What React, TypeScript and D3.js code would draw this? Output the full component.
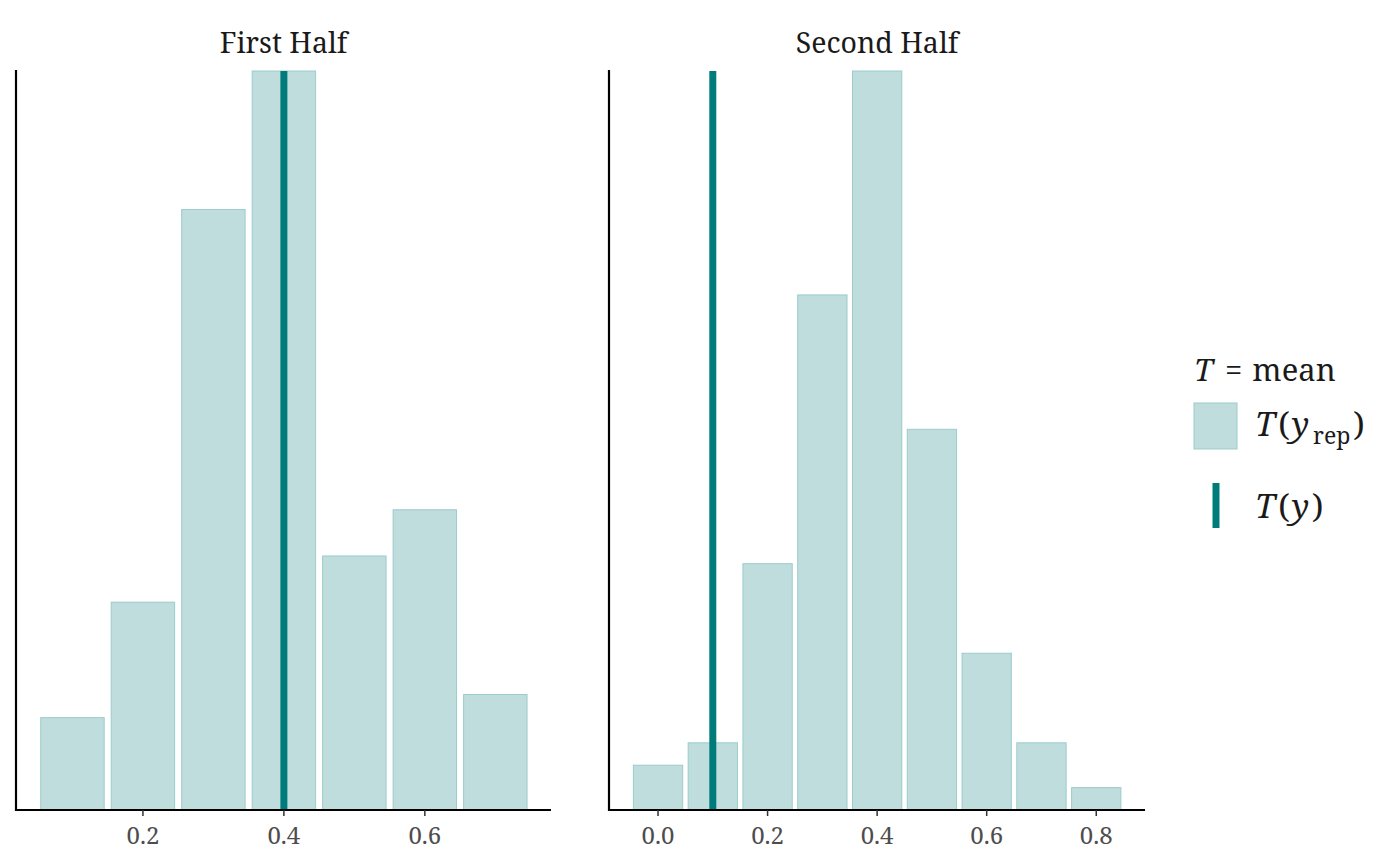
import * as d3 from "d3";

const FONT = "'Noto Serif', 'DejaVu Serif', serif";
const FILL = "#bfdddd";
const STROKE = "#9ccbcb";
const LINE = "#007b7b";

// bin centres and counts of T(y_rep), one list per facet
const firstBins = [0.1, 0.2, 0.3, 0.4, 0.5, 0.6, 0.7];
const firstCounts = [12, 27, 78, 96, 33, 39, 15];
const firstTy = 0.4;
const firstTicks = [0.2, 0.4, 0.6];

const secondBins = [0.0, 0.1, 0.2, 0.3, 0.4, 0.5, 0.6, 0.7, 0.8];
const secondCounts = [6, 9, 33, 69, 99, 51, 21, 9, 3];
const secondTy = 0.1;
const secondTicks = [0.0, 0.2, 0.4, 0.6, 0.8];

const BIN = 0.1;
const TOP = 71;
const BOTTOM = 810;

type PanelProps = {
    title: string;
    left: number;
    right: number;
    domain: [number, number];
    bins: number[];
    counts: number[];
    ty: number;
    ticks: number[];
};

const Panel = ({ title, left, right, domain, bins, counts, ty, ticks }: PanelProps) => {
    const xScale = d3.scaleLinear().domain(domain).range([left, right]);
    const yScale = d3.scaleLinear().domain([0, d3.max(counts) as number]).range([BOTTOM, TOP]);

    const bars = bins.map((b, i) => {
        const x0 = xScale(b - BIN * 0.45);
        const x1 = xScale(b + BIN * 0.45);
        return (
            <rect
                key={i}
                x={x0}
                y={yScale(counts[i])}
                width={x1 - x0}
                height={BOTTOM - yScale(counts[i])}
                fill={FILL}
                stroke={STROKE}
                strokeWidth={1}
            />
        );
    });

    return (
        <g>
            <text x={(left + right) / 2} y={53} textAnchor="middle" fontSize={28.5} fill="#1a1a1a" fontFamily={FONT}>
                {title}
            </text>
            {bars}
            <line x1={xScale(ty)} x2={xScale(ty)} y1={TOP} y2={BOTTOM} stroke={LINE} strokeWidth={7} />
            <line x1={left} x2={left} y1={TOP - 1} y2={BOTTOM + 1} stroke="black" strokeWidth={2.2} />
            <line x1={left - 1} x2={right} y1={BOTTOM} y2={BOTTOM} stroke="black" strokeWidth={2.2} />
            {ticks.map((t) => (
                <g key={t}>
                    <line x1={xScale(t)} x2={xScale(t)} y1={BOTTOM} y2={BOTTOM + 6} stroke="#333" strokeWidth={1.5} />
                    <text x={xScale(t)} y={BOTTOM + 34} textAnchor="middle" fontSize={24} fill="#4d4d4d" fontFamily={FONT}>
                        {t.toFixed(1)}
                    </text>
                </g>
            ))}
        </g>
    );
};

export default function App() {
    return (
        <svg width={1400} height={866} style={{ position: "absolute", left: 0, top: 0, background: "white" }}>
            <Panel
                title="First Half"
                left={16}
                right={551}
                domain={[0.0199, 0.779]}
                bins={firstBins}
                counts={firstCounts}
                ty={firstTy}
                ticks={firstTicks}
            />
            <Panel
                title="Second Half"
                left={609}
                right={1145}
                domain={[-0.0895, 0.889]}
                bins={secondBins}
                counts={secondCounts}
                ty={secondTy}
                ticks={secondTicks}
            />
            {/* legend */}
            <g fontFamily={FONT} fill="#1a1a1a">
                <text x={1194} y={381} fontSize={31}>
                    <tspan fontStyle="italic">T</tspan>
                    <tspan dx={12}>=</tspan>
                    <tspan dx={10}>mean</tspan>
                </text>
                <rect x={1194} y={403} width={43} height={46} fill={FILL} stroke={STROKE} strokeWidth={1} />
                <text x={1255} y={436} fontSize={33}>
                    <tspan fontStyle="italic">T</tspan>
                    <tspan dx={3}>(</tspan>
                    <tspan fontStyle="italic" dx={2}>y</tspan>
                    <tspan fontSize={23} dy={8} dx={4}>rep</tspan>
                    <tspan dy={-8} dx={3}>)</tspan>
                </text>
                <line x1={1216} x2={1216} y1={483} y2={528} stroke={LINE} strokeWidth={7} />
                <text x={1255} y={518} fontSize={33}>
                    <tspan fontStyle="italic">T</tspan>
                    <tspan dx={3}>(</tspan>
                    <tspan fontStyle="italic" dx={2}>y</tspan>
                    <tspan dx={3}>)</tspan>
                </text>
            </g>
        </svg>
    );
}
